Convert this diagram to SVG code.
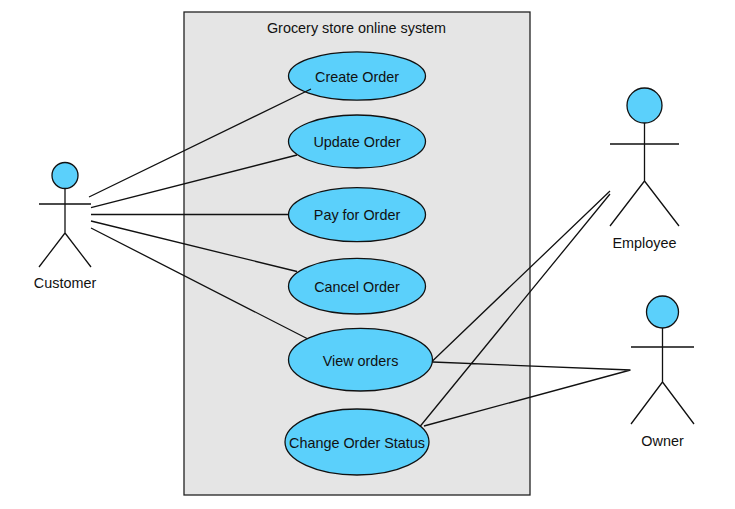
<svg xmlns="http://www.w3.org/2000/svg" width="735" height="509" viewBox="0 0 735 509">
<style>
text{font-family:"Liberation Sans",Arial,sans-serif;font-size:14.4px;fill:#111;text-anchor:middle}
.uc{fill:#5bd0fb;stroke:#111;stroke-width:1.3}
.ln{fill:none;stroke:#111;stroke-width:1.3}
</style>
<rect width="735" height="509" fill="#fff"/>
<g id="system"><rect x="184" y="12" width="346" height="483" fill="#e5e5e5" stroke="#222" stroke-width="1.3"/><text x="356.500" y="33">Grocery store online system</text></g>
<g id="create-order"><ellipse class="uc" cx="357" cy="76" rx="68.500" ry="24.200"/><text x="357" y="82">Create Order</text></g>
<g id="update-order"><ellipse class="uc" cx="357" cy="141.500" rx="68.500" ry="26.500"/><text x="357" y="147">Update Order</text></g>
<g id="pay-for-order"><ellipse class="uc" cx="357" cy="214.700" rx="68.500" ry="27"/><text x="357" y="220">Pay for Order</text></g>
<g id="cancel-order"><ellipse class="uc" cx="357" cy="286.200" rx="68.500" ry="27.800"/><text x="357" y="292">Cancel Order</text></g>
<g id="view-orders"><ellipse class="uc" cx="360.500" cy="359.700" rx="72" ry="31.300"/><text x="360.500" y="366">View orders</text></g>
<g id="change-order-status"><ellipse class="uc" cx="357" cy="442" rx="72" ry="33"/><text x="357" y="448">Change Order Status</text></g>
<g id="customer"><circle class="uc" cx="65" cy="175.500" r="13"/><path class="ln" d="M65 189V233M39 204H91M65 233L39 267M65 233L91 267"/><text x="65" y="288">Customer</text></g>
<g id="employee"><circle class="uc" cx="644.500" cy="105.500" r="17.500"/><path class="ln" d="M644.500 123V181M610 144H679M644.500 181L610 226M644.500 181L679 226"/><text x="644.500" y="248">Employee</text></g>
<g id="owner"><circle class="uc" cx="662.500" cy="312" r="16"/><path class="ln" d="M662.500 328V382M631 347H694M662.500 382L631 424M662.500 382L694 424"/><text x="662.500" y="446">Owner</text></g>
<g id="connectors" class="ln">
<path d="M89 197L311 89M91 207.700L297 155M91 214.500H288M91 221L297 271.500M91 228L307 338.500M432.500 361L610 191M432.500 362L630.500 370M420 426.500L610 194M424 426L630.500 370"/>
</g>
</svg>
